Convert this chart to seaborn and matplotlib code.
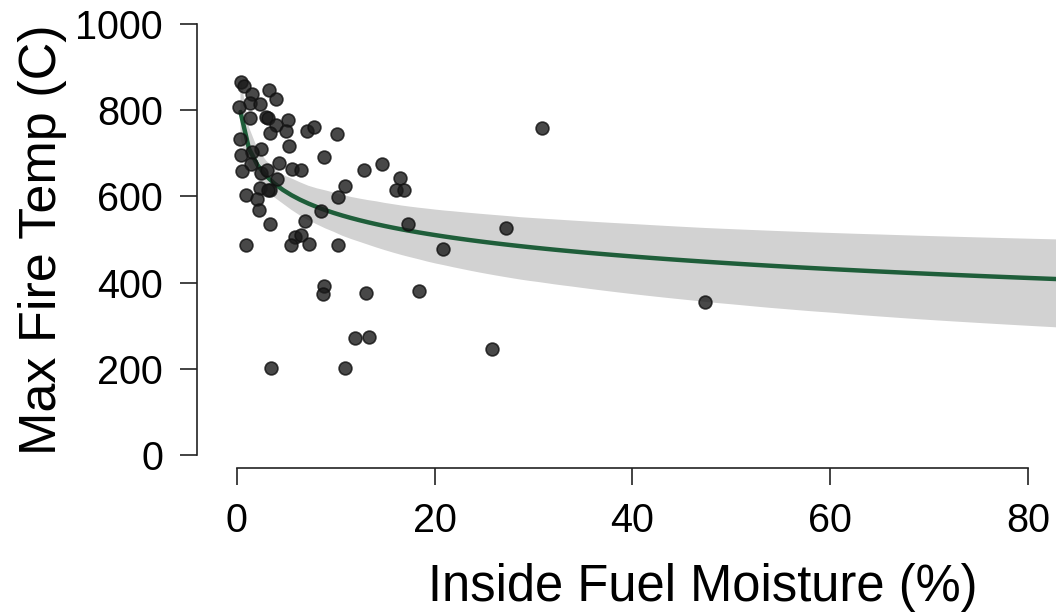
import numpy as np
import pandas as pd
import matplotlib
matplotlib.use("Agg")
import matplotlib.pyplot as plt
import seaborn as sns
from matplotlib.collections import PolyCollection

# Inside fuel moisture (%) and max fire temperature (C)
moisture = [0.40, 0.76, 1.54, 3.23, 3.99, 1.36, 2.32, 0.20, 1.38, 2.93,
            3.18, 5.20, 3.94, 3.33, 4.94, 7.11, 7.77, 10.17, 0.37, 5.30,
            2.47, 1.51, 0.45, 8.78, 4.24, 1.46, 0.55, 2.49, 3.06, 5.60,
            6.46, 12.85, 14.70, 16.48, 16.07, 16.88, 10.93, 4.07, 2.32, 3.33,
            3.20, 0.96, 2.05, 10.19, 2.25, 8.48, 3.33, 6.93, 5.92, 6.53,
            0.91, 5.45, 7.27, 10.26, 17.33, 27.25, 30.88, 20.86, 8.81, 8.68,
            13.12, 18.40, 11.96, 13.35, 25.83, 3.43, 10.93, 47.40]
max_temp = [865, 856, 838, 847, 827, 816, 814, 808, 783, 785,
            781, 777, 766, 748, 752, 752, 760, 745, 733, 717,
            709, 703, 697, 692, 678, 676, 659, 654, 662, 663,
            661, 662, 675, 642, 615, 615, 623, 640, 619, 614,
            616, 604, 594, 598, 568, 567, 536, 544, 505, 510,
            488, 488, 489, 487, 536, 527, 758, 478, 393, 373,
            375, 381, 271, 273, 245, 203, 203, 355]

x_ticks = [0, 20, 40, 60, 80]
y_ticks = [0, 200, 400, 600, 800, 1000]

df = pd.DataFrame({"moisture": moisture, "temp": max_temp})

sns.set_theme(style="ticks")
plt.rcParams["font.family"] = ["Liberation Sans", "DejaVu Sans"]

fig = plt.figure(figsize=(10.56, 6.12), dpi=100)
ax = fig.add_axes([215 / 1056, (612 - 455) / 612, 1 - 215 / 1056, (455 - 24) / 612])
ax.set_xlim(-2.2, 82.85)
ax.set_ylim(0, 1000)

sns.regplot(data=df, x="moisture", y="temp", ax=ax, logx=True, truncate=False,
            ci=95, n_boot=1000, seed=3,
            scatter_kws=dict(color="#1a1a1a", alpha=0.8, s=85, edgecolors="#111111",
                             linewidths=1.2, zorder=3),
            line_kws=dict(color="#1f5e3a", lw=3.2, zorder=2))

for coll in ax.collections:
    if isinstance(coll, PolyCollection):
        coll.set_facecolor("#d2d2d2")
        coll.set_edgecolor("none")
        coll.set_alpha(1)
        coll.set_zorder(1)

ax.set_xlim(-2.2, 82.85)
ax.set_ylim(0, 1000)
ax.set_xticks(x_ticks)
ax.set_yticks(y_ticks)
ax.set_xlabel("Inside Fuel Moisture (%)", fontsize=36.5, color="black")
ax.set_ylabel("Max Fire Temp (C)", fontsize=37.5, color="black", labelpad=6)
ax.xaxis.set_label_coords((703 - 215) / (1056 - 215), -0.25)
ax.tick_params(axis="both", labelsize=28.5, length=12.5, width=1.2, colors="#222222",
               labelcolor="black")
ax.tick_params(axis="y", pad=12)
ax.tick_params(axis="x", pad=12)

for s in ["top", "right"]:
    ax.spines[s].set_visible(False)
ax.spines["left"].set_position(("outward", 13))
ax.spines["bottom"].set_position(("outward", 9.5))
ax.spines["left"].set_bounds(0, 1000)
ax.spines["bottom"].set_bounds(0, 80)
for s in ["left", "bottom"]:
    ax.spines[s].set_linewidth(1.2)
    ax.spines[s].set_color("#222222")

fig.savefig("out.png", dpi=100)
